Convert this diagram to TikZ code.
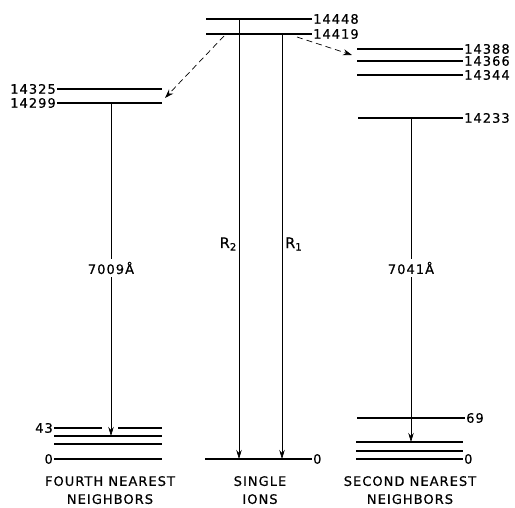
\documentclass[tikz,border=0pt]{standalone}
\usepackage{fontspec}
\setmainfont{DejaVu Sans}[LetterSpace=8,FakeBold=0.6]
\usetikzlibrary{arrows.meta}
\begin{document}
\begin{tikzpicture}[x=1pt,y=-1pt,
  level/.style={line width=1.7pt},
  trans/.style={line width=0.7pt,-{Stealth[length=9pt,width=5.5pt]}},
  nonrad/.style={line width=0.7pt,dash pattern=on 6pt off 4pt,-{Stealth[length=9pt,width=6pt]}},
  lab/.style={font=\fontsize{13}{18}\selectfont, inner sep=1pt},
  elab/.style={lab,anchor=east},
  wlab/.style={lab,anchor=west},
  tlab/.style={lab,fill=white,inner sep=3pt},
  title/.style={lab,align=center,anchor=north}
]
\useasboundingbox (0,0) rectangle (515,508);
% ---------- fourth nearest neighbors ----------
\coordinate (F1a) at (57,89);  \coordinate (F1b) at (162,89);
\coordinate (F2a) at (57,103); \coordinate (F2b) at (162,103);
\coordinate (F3a) at (54,428); \coordinate (F3g1) at (102,428);
\coordinate (F3g2) at (118,428); \coordinate (F3b) at (162,428);
\coordinate (F4a) at (54,436); \coordinate (F4b) at (162,436);
\coordinate (F5a) at (54,444); \coordinate (F5b) at (162,444);
\coordinate (F6a) at (54,459); \coordinate (F6b) at (162,459);
\draw[level] (F1a) -- (F1b);
\draw[level] (F2a) -- (F2b);
\draw[level] (F3a) -- (F3g1);
\draw[level] (F3g2) -- (F3b);
\draw[level] (F4a) -- (F4b);
\draw[level] (F5a) -- (F5b);
\draw[level] (F6a) -- (F6b);
\node[elab] (l14325) at (F1a) {14325};
\node[elab] (l14299) at (F2a) {14299};
\node[elab] (l43) at (F3a) {43};
\node[elab] (lF0) at (F6a) {0};
\coordinate (Ftop) at (111,103);
\coordinate (Fbot) at (111,436);
\draw[trans] (Ftop) -- (Fbot);
\node[tlab] (l7009) at (111,268) {7009Å};
\node[title] (tF) at (110,475) {FOURTH NEAREST\\NEIGHBORS};
% ---------- single ions ----------
\coordinate (C1a) at (206,19); \coordinate (C1b) at (312,19);
\coordinate (C2a) at (206,34); \coordinate (C2b) at (312,34);
\coordinate (C0a) at (205,459); \coordinate (C0b) at (312,459);
\draw[level] (C1a) -- (C1b);
\draw[level] (C2a) -- (C2b);
\draw[level] (C0a) -- (C0b);
\node[wlab] (l14448) at (C1b) {14448};
\node[wlab] (l14419) at (C2b) {14419};
\node[wlab] (lC0) at (C0b) {0};
\coordinate (R2top) at (239,19); \coordinate (R2bot) at (239,459);
\coordinate (R1top) at (282,34); \coordinate (R1bot) at (282,459);
\draw[trans] (R2top) -- (R2bot);
\draw[trans] (R1top) -- (R1bot);
\node[lab,anchor=east,font=\fontsize{14.5}{17}\selectfont] (lR2) at (238,244) {R\textsubscript{2}};
\node[lab,anchor=west,font=\fontsize{14.5}{17}\selectfont] (lR1) at (284,244) {R\textsubscript{1}};
\node[title] (tC) at (260,475) {SINGLE\\IONS};
% ---------- second nearest neighbors ----------
\coordinate (S1a) at (357,49);  \coordinate (S1b) at (463,49);
\coordinate (S2a) at (357,61);  \coordinate (S2b) at (463,61);
\coordinate (S3a) at (357,75);  \coordinate (S3b) at (463,75);
\coordinate (S4a) at (358,118); \coordinate (S4b) at (463,118);
\coordinate (S5a) at (357,418); \coordinate (S5b) at (465,418);
\coordinate (S6a) at (356,442); \coordinate (S6b) at (463,442);
\coordinate (S7a) at (356,451); \coordinate (S7b) at (463,451);
\coordinate (S8a) at (356,459); \coordinate (S8b) at (463,459);
\foreach \n in {1,...,8} {\draw[level] (S\n a) -- (S\n b);}
\node[wlab] (l14388) at (S1b) {14388};
\node[wlab] (l14366) at (S2b) {14366};
\node[wlab] (l14344) at (S3b) {14344};
\node[wlab] (l14233) at (S4b) {14233};
\node[wlab] (l69) at (S5b) {69};
\node[wlab] (lS0) at (S8b) {0};
\coordinate (Stop) at (411,118);
\coordinate (Sbot) at (411,442);
\draw[trans] (Stop) -- (Sbot);
\node[tlab] (l7041) at (411,268) {7041Å};
\node[title] (tS) at (410,475) {SECOND NEAREST\\NEIGHBORS};
% ---------- non-radiative transfer ----------
\coordinate (DLs) at (224,36); \coordinate (DLe) at (165,98);
\coordinate (DRs) at (297,37); \coordinate (DRe) at (352,55);
\draw[nonrad] (DLs) -- (DLe);
\draw[nonrad] (DRs) -- (DRe);
\end{tikzpicture}
\end{document}
